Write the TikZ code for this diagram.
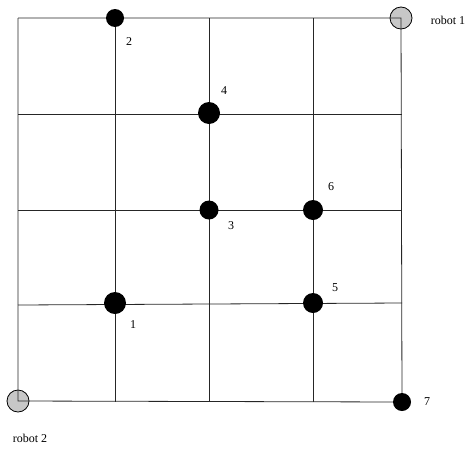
\documentclass[tikz,border=0pt]{standalone}
\usepackage{fontspec}
\setmainfont{Liberation Serif}
\begin{document}
\begin{tikzpicture}[x=1pt,y=-1pt,
  gridline/.style={draw=black!85, line width=0.8pt},
  robot/.style={circle, draw=black, fill=black!22, line width=0.8pt, minimum size=22pt, inner sep=0pt},
  task/.style={circle, fill=black, inner sep=0pt},
  lbl/.style={font=\fontsize{12}{14}\selectfont, inner sep=0pt}]
\useasboundingbox (0,0) rectangle (470,458);
% robots
\node[robot] (r1) at (401,18) {};
\node[robot] (r2) at (18,401) {};
% grid coordinates
\coordinate (t1) at (115,18);
\coordinate (t2) at (209,18);
\coordinate (t3) at (313,18);
\coordinate (b1) at (115,402);
\coordinate (b2) at (209,402);
\coordinate (b3) at (313,402);
\coordinate (b4) at (402,402);
\coordinate (l1) at (18,114);
\coordinate (l2) at (18,210);
\coordinate (l3) at (18,305);
\coordinate (rr1) at (402,114);
\coordinate (rr2) at (402,210);
\coordinate (rr3) at (402,303);
\coordinate (tl) at (18,18);
% grid
\draw[gridline] (tl) -- (r1.center) -- (b4);
\draw[gridline] (tl) -- (r2.center) -- (b4);
\draw[gridline] (t1) -- (b1);
\draw[gridline] (t2) -- (b2);
\draw[gridline] (t3) -- (b3);
\draw[gridline] (l1) -- (rr1);
\draw[gridline] (l2) -- (rr2);
\draw[gridline] (l3) -- (rr3);
% tasks
\node[task, minimum size=18pt] (n2) at (115,18) {};
\node[task, minimum size=22pt] (n4) at (209,113) {};
\node[task, minimum size=19pt] (n3) at (209,210) {};
\node[task, minimum size=20pt] (n6) at (313,210) {};
\node[task, minimum size=22pt] (n1) at (115,303) {};
\node[task, minimum size=20pt] (n5) at (313,303) {};
\node[task, minimum size=18pt] (n7) at (402,402) {};
% labels
\node[lbl] (L2) at (129,42) {2};
\node[lbl] (L4) at (224,91) {4};
\node[lbl] (L3) at (231,226) {3};
\node[lbl] (L6) at (331,187) {6};
\node[lbl] (L1) at (133,325) {1};
\node[lbl] (L5) at (335,288) {5};
\node[lbl] (L7) at (427,402) {7};
\node[lbl] (R1) at (448,20) {robot 1};
\node[lbl] (R2) at (30,438) {robot 2};
\end{tikzpicture}
\end{document}
